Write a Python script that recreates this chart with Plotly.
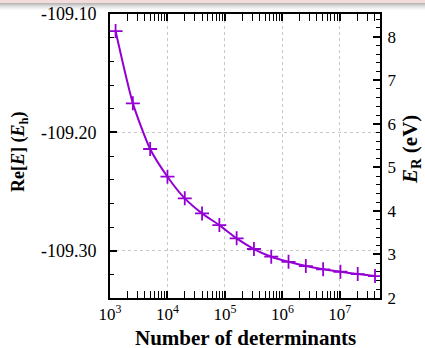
import plotly.graph_objects as go

# Data
n_determinants = [1250, 2500, 5000, 10000, 20000, 40000, 80000, 160000, 320000,
                  640000, 1280000, 2560000, 5120000, 10240000, 20480000, 40960000]
re_energy = [-109.1144, -109.1755, -109.2141, -109.2375, -109.2558, -109.2685,
             -109.2784, -109.2896, -109.2986, -109.3051, -109.3094, -109.3130,
             -109.3158, -109.3178, -109.3198, -109.3215]
x_tickvals = [1e3, 1e4, 1e5, 1e6, 1e7]
x_ticktext = ["10<sup>3</sup>", "10<sup>4</sup>", "10<sup>5</sup>", "10<sup>6</sup>", "10<sup>7</sup>"]
x_minor_vals = [m * 10 ** d for d in range(3, 8) for m in range(2, 10)]
y_tickvals = [-109.10, -109.20, -109.30]
y_ticktext = ["-109.10", "-109.20", "-109.30"]
y2_tickvals = [2, 3, 4, 5, 6, 7, 8]
x_title = "<b>Number of determinants</b>"
y_title = "<b>Re[<i>E</i>] (<i>E</i><sub>h</sub>)</b>"
y2_title = "<b><i>E</i><sub>R</sub> (eV)</b>"

W, H = 425, 348
L, R, T, B = 110, 380, 14, 298
PURPLE = "#9400D3"
TFONT = "Liberation Serif"
KFONT = "Times New Roman"

fig = go.Figure()
fig.add_trace(go.Scatter(
    x=n_determinants, y=re_energy, mode="lines+markers",
    line=dict(color=PURPLE, width=2, shape="spline", smoothing=0.6),
    marker=dict(symbol="cross-thin", size=10, line=dict(color=PURPLE, width=1.8)),
    showlegend=False, cliponaxis=False, hoverinfo="skip",
))
# placeholder trace so that the right-hand axis is drawn
fig.add_trace(go.Scatter(x=[n_determinants[0]], y=[None], yaxis="y2",
                         mode="markers", showlegend=False, hoverinfo="skip"))

def px2x(p):
    return (p - L) / (R - L)

def py2y(p):
    return (B - p) / (B - T)

shapes = []
shapes.append(dict(type="rect", xref="paper", yref="paper", x0=px2x(0), x1=px2x(W),
                   y0=py2y(3), y1=py2y(0), fillcolor="#f3dcdc", line=dict(width=0), layer="below"))
grays = [184, 198, 212, 224, 234, 242, 249, 253]
for i, g in enumerate(grays):
    shapes.append(dict(type="rect", xref="paper", yref="paper", x0=px2x(0), x1=px2x(W),
                       y0=py2y(4 + i), y1=py2y(3 + i), fillcolor=f"rgb({g},{g},{g})",
                       line=dict(width=0), layer="below"))

annotations = [
    dict(text=x_title, xref="paper", yref="paper", x=px2x(245), y=py2y(338),
         xanchor="center", yanchor="middle", showarrow=False,
         font=dict(family=TFONT, size=21, color="black")),
    dict(text=y_title, xref="paper", yref="paper", x=px2x(19), y=py2y(152),
         xanchor="center", yanchor="middle", textangle=-90, showarrow=False,
         font=dict(family=TFONT, size=18, color="black")),
    dict(text=y2_title, xref="paper", yref="paper", x=px2x(411), y=py2y(150),
         xanchor="center", yanchor="middle", textangle=-90, showarrow=False,
         font=dict(family=TFONT, size=21, color="black")),
]

fig.update_layout(
    width=W, height=H,
    margin=dict(l=L, r=W - R, t=T, b=H - B, autoexpand=False),
    paper_bgcolor="white", plot_bgcolor="white",
    font=dict(family=KFONT, size=16, color="black"),
    shapes=shapes,
    annotations=annotations,
    xaxis=dict(
        type="log", range=[3, 7.699], automargin=False,
        tickmode="array", tickvals=x_tickvals, ticktext=x_ticktext,
        ticks="inside", ticklen=7, tickwidth=1.5, tickcolor="black",
        minor=dict(tickmode="array", tickvals=x_minor_vals, ticks="inside", ticklen=4,
                   tickwidth=1.2, tickcolor="black", showgrid=False),
        showline=True, linewidth=2, linecolor="black", mirror="allticks",
        showgrid=True, gridcolor="#c8c8c8", griddash="dot", gridwidth=1,
        zeroline=False,
        tickfont=dict(family=KFONT, size=17, color="black"),
        ticklabelstandoff=0,
    ),
    yaxis=dict(
        range=[-109.34, -109.10], automargin=False,
        tickmode="array", tickvals=y_tickvals, ticktext=y_ticktext,
        ticks="inside", ticklen=7, tickwidth=1.5, tickcolor="black",
        minor=dict(dtick=0.02, tick0=-109.10, ticks="inside", ticklen=4, tickwidth=1.2,
                   tickcolor="black", showgrid=False),
        showline=True, linewidth=2, linecolor="black",
        showgrid=True, gridcolor="#c8c8c8", griddash="dot", gridwidth=1,
        zeroline=False,
        tickfont=dict(family=KFONT, size=18, color="black"),
        ticklabelstandoff=8,
    ),
    yaxis2=dict(
        overlaying="y", side="right", range=[2, 8.52], automargin=False,
        tickmode="array", tickvals=y2_tickvals,
        ticks="inside", ticklen=7, tickwidth=1.5, tickcolor="black",
        minor=dict(dtick=0.2, tick0=2, ticks="inside", ticklen=4, tickwidth=1.2,
                   tickcolor="black", showgrid=False),
        showline=True, linewidth=2, linecolor="black",
        showgrid=False, zeroline=False,
        tickfont=dict(family=KFONT, size=17, color="black"),
        ticklabelstandoff=2,
    ),
)

fig.write_html("out.html")
